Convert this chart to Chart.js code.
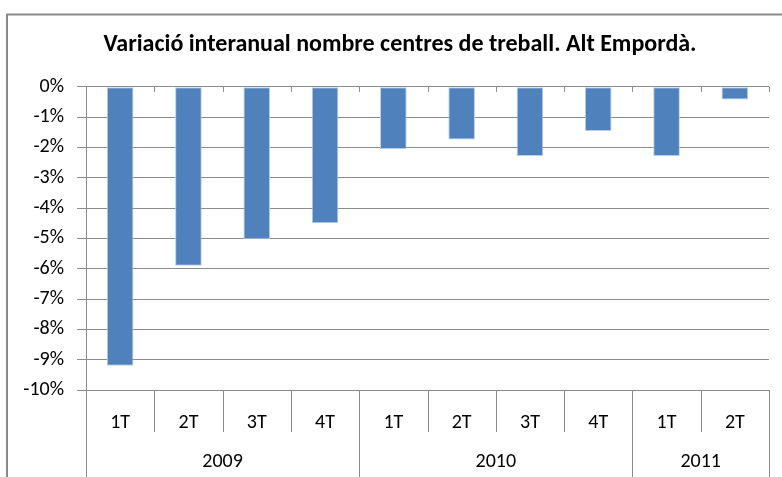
<!DOCTYPE html>
<html>
<head>
<meta charset="utf-8">
<script src="https://cdn.jsdelivr.net/npm/chart.js@4.4.0/dist/chart.umd.min.js"></script>
<style>
  html, body { margin: 0; padding: 0; background: #ffffff; }
  #wrap { position: relative; width: 782px; height: 477px; }
</style>
</head>
<body>
<div id="wrap"><canvas id="c" width="782" height="477"></canvas></div>
<script>
// ---- data ----
const quarters = ['1T', '2T', '3T', '4T', '1T', '2T', '3T', '4T', '1T', '2T'];
const years = ['2009', '2010', '2011'];
const yearSpans = [4, 4, 2];
const variacio = [-9.2, -5.9, -5.03, -4.5, -2.05, -1.74, -2.28, -1.46, -2.28, -0.42];
const yTicks = [0, -1, -2, -3, -4, -5, -6, -7, -8, -9, -10];

const FONT = "Carlito, 'Liberation Sans Narrow', 'Liberation Sans', sans-serif";
const GRID = '#8c8c8c';

const decor = {
  id: 'decor',
  beforeDraw(chart) {
    const ctx = chart.ctx;
    ctx.save();
    ctx.strokeStyle = '#8a8a8a';
    ctx.lineWidth = 2;
    ctx.beginPath();
    ctx.moveTo(7, 490);
    ctx.lineTo(7, 14.5);
    ctx.lineTo(800, 14.5);
    ctx.stroke();
    ctx.restore();
  },
  afterDraw(chart) {
    const ctx = chart.ctx;
    const x = chart.scales.x;
    const y = chart.scales.y;
    const half = (x.getPixelForValue(1) - x.getPixelForValue(0)) / 2;
    const bottom = chart.chartArea.bottom;
    const zeroY = y.getPixelForValue(0);
    ctx.save();
    ctx.strokeStyle = GRID;
    ctx.lineWidth = 1;
    const yearBounds = new Set();
    let acc = 0;
    yearBounds.add(0);
    yearSpans.forEach(s => { acc += s; yearBounds.add(acc); });
    for (let i = 0; i <= quarters.length; i++) {
      const px = Math.round(x.getPixelForValue(i) - half) + 0.5;
      ctx.beginPath();
      ctx.moveTo(px, zeroY);
      ctx.lineTo(px, zeroY + 5);
      ctx.stroke();
      ctx.beginPath();
      ctx.moveTo(px, bottom);
      ctx.lineTo(px, yearBounds.has(i) ? 477 : 432);
      ctx.stroke();
    }
    ctx.fillStyle = '#000';
    ctx.font = '20px ' + FONT;
    ctx.textAlign = 'center';
    ctx.textBaseline = 'middle';
    let start = 0;
    years.forEach((yr, k) => {
      const end = start + yearSpans[k] - 1;
      const cx = (x.getPixelForValue(start) + x.getPixelForValue(end)) / 2;
      ctx.fillText(yr, cx, 462);
      start += yearSpans[k];
    });
    ctx.restore();
  }
};

new Chart(document.getElementById('c'), {
  type: 'bar',
  data: {
    labels: quarters,
    datasets: [{
      data: variacio,
      backgroundColor: '#4f81bd',
      borderColor: '#b9cde5',
      borderWidth: 1,
      borderSkipped: false,
      barPercentage: 0.39,
      categoryPercentage: 1.0
    }]
  },
  options: {
    responsive: false,
    animation: false,
    devicePixelRatio: 1,
    layout: { padding: { left: 10, right: -8, top: 0, bottom: 0 } },
    plugins: {
      legend: { display: false },
      tooltip: { enabled: false },
      title: {
        display: true,
        text: 'Variació interanual nombre centres de treball. Alt Empordà.',
        color: '#000',
        font: { family: FONT, size: 24, weight: 'bold', lineHeight: 1.2 },
        padding: { top: 31, bottom: 27 }
      }
    },
    scales: {
      x: {
        grid: { display: false, drawTicks: false },
        border: { display: false },
        ticks: { color: '#000', font: { family: FONT, size: 20 }, padding: 21, maxRotation: 0, autoSkip: false },
        afterFit(s) { s.height = 87; }
      },
      y: {
        min: -10,
        max: 0,
        afterBuildTicks(s) { s.ticks = yTicks.map(v => ({ value: v })); },
        grid: { color: GRID, lineWidth: 1, tickLength: 9, drawTicks: true },
        border: { display: true, color: GRID },
        ticks: {
          color: '#000',
          font: { family: FONT, size: 20 },
          padding: 13,
          callback: v => v + '%'
        },
        afterFit(s) { s.width = 76; }
      },
      yRightSpacer: {
        position: 'right',
        min: -10,
        max: 0,
        grid: { display: false, drawTicks: false },
        border: { display: false },
        ticks: { display: false },
        afterFit(s) { s.width = 21; }
      }
    }
  },
  plugins: [decor]
});
</script>
</body>
</html>
